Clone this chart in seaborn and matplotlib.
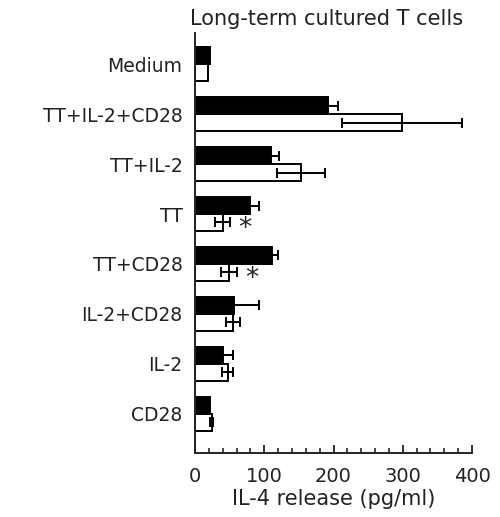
import pandas as pd
import seaborn as sns
import matplotlib.pyplot as plt
from matplotlib.ticker import MultipleLocator

# stimulation conditions, top to bottom
conditions = ['Medium', 'TT+IL-2+CD28', 'TT+IL-2', 'TT', 'TT+CD28',
              'IL-2+CD28', 'IL-2', 'CD28']
# filled bars
filled_vals = [21, 192, 110, 79, 111, 56, 40, 22]
filled_err = [0, 15, 12, 14, 9, 36, 15, 0]
# open bars
open_vals = [19, 299, 153, 40, 49, 55, 47, 24]
open_err = [0, 87, 35, 11, 12, 10, 8, 2]
# conditions marked with an asterisk next to the open bar
starred = ['TT', 'TT+CD28']

sns.set_style('ticks')
plt.rcParams['font.family'] = ['DejaVu Sans']

df = pd.DataFrame({
    'cond': conditions * 2,
    'il4': filled_vals + open_vals,
    'err': filled_err + open_err,
    'grp': ['filled'] * len(conditions) + ['open'] * len(conditions),
})

fig = plt.figure(figsize=(5.0, 5.17), dpi=100)
ax = fig.add_axes([0.39, 0.124, 0.554, 0.812])

sns.barplot(data=df, x='il4', y='cond', hue='grp', order=conditions,
            hue_order=['filled', 'open'],
            palette={'filled': 'black', 'open': 'white'},
            edgecolor='black', linewidth=1.4, width=0.68, gap=0,
            legend=False, ax=ax)

# error bars drawn at the bars' own positions
errs = {'filled': filled_err, 'open': open_err}
for cont, grp in zip(ax.containers, ['filled', 'open']):
    for bar, e, cond in zip(cont, errs[grp], conditions):
        yc = bar.get_y() + bar.get_height() / 2
        w = bar.get_width()
        if e > 0:
            ax.errorbar(w, yc, xerr=e, fmt='none', ecolor='black',
                        elinewidth=1.4, capsize=3.8, capthick=1.4, zorder=5)
        if grp == 'open' and cond in starred:
            ax.text(w + e + 21, yc + 0.13, '*', ha='center', va='center',
                    fontsize=19, color='#222222')

ax.set_xlim(0, 400)
ax.set_ylim(7.78, -0.62)
ax.xaxis.set_major_locator(MultipleLocator(100))
ax.xaxis.set_minor_locator(MultipleLocator(20))
ax.tick_params(axis='x', which='major', direction='in', length=6, width=1.3,
               pad=10, labelsize=14, colors='#222222')
ax.tick_params(axis='x', which='minor', direction='in', length=3.5, width=1.2)
ax.tick_params(axis='y', length=0, pad=9, labelsize=13.5, colors='#222222')
sns.despine(ax=ax)
for s in ['left', 'bottom']:
    ax.spines[s].set_linewidth(1.4)
    ax.spines[s].set_color('#222222')

ax.set_ylabel('')
ax.set_xlabel('IL-4 release (pg/ml)', fontsize=15, color='#222222', labelpad=2)
fig.text(0.653, 0.963, 'Long-term cultured T cells', ha='center', va='center',
         fontsize=15, color='#222222')

fig.savefig('out.png', dpi=100)
